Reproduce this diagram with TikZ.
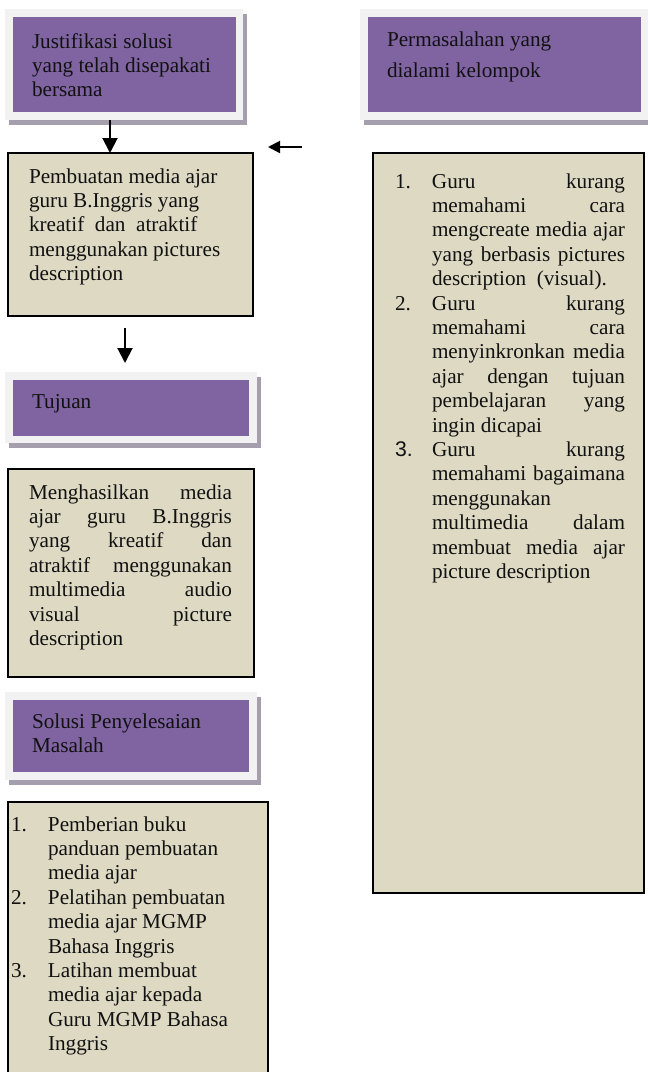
\documentclass[tikz,border=0pt]{standalone}
\usepackage{fontspec}
\setmainfont{Liberation Serif}
\newfontfamily\numsans{Liberation Sans}
\usetikzlibrary{arrows.meta,shadows}
\definecolor{hdrpurple}{HTML}{8064A2}
\definecolor{hdrouter}{HTML}{F2F2F2}
\definecolor{hdrshadow}{HTML}{A59EAD}
\definecolor{bodybeige}{HTML}{DDD9C3}
\definecolor{inktext}{HTML}{111111}
\newcommand\txtblk[3][24.4pt]{\begin{minipage}[t]{#2}\fontsize{21.2pt}{#1}\selectfont #3\end{minipage}}
\newcommand\jl[1]{\makebox[\linewidth][s]{#1}\par}
\newcommand\rl[1]{\mbox{#1}\par}
\newcommand\itemj[3]{\makebox[#1][l]{#2}\makebox[\dimexpr\linewidth-#1\relax][s]{#3}\par}
\newcommand\itemr[3]{\makebox[#1][l]{#2}\mbox{#3}\par}
\tikzset{
  hdrframe/.style={fill=hdrouter, draw=none, inner sep=0pt, outer sep=0pt, anchor=north west,
    drop shadow={shadow xshift=3.5pt, shadow yshift=-5pt, fill=hdrshadow, opacity=1}},
  hdrfill/.style={fill=hdrpurple, draw=none, inner sep=0pt, outer sep=0pt, anchor=north west},
  bodybox/.style={fill=bodybeige, draw=black, line width=2pt, inner sep=0pt, outer sep=0pt, anchor=north west},
  txt/.style={inner sep=0pt, outer sep=0pt, anchor=base west, text=inktext},
  arr/.style={line width=2pt, -{Triangle[length=15pt,width=15pt]}},
  arrsmall/.style={line width=2pt, -{Triangle[length=12pt,width=12pt]}},
}
\begin{document}
\begin{tikzpicture}[x=1pt,y=-1pt]
\useasboundingbox (0,0) rectangle (648,1072);
% headers
\node[hdrframe, minimum width=238pt, minimum height=111pt] (h1o) at (5,9) {};
\node[hdrfill, minimum width=223pt, minimum height=95pt] (h1) at (13,17) {};
\node[txt] (h1t) at (32,48) {\txtblk[24pt]{200pt}{\rl{Justifikasi solusi}\rl{yang telah disepakati}\rl{bersama}}};

\node[hdrframe, minimum width=290pt, minimum height=111pt] (h2o) at (360,9) {};
\node[hdrfill, minimum width=273pt, minimum height=95pt] (h2) at (368,17) {};
\node[txt] (h2t) at (387,46) {\txtblk[31.5pt]{220pt}{\rl{Permasalahan yang}\rl{dialami kelompok}}};

\node[hdrframe, minimum width=252pt, minimum height=71pt] (h3o) at (5,372) {};
\node[hdrfill, minimum width=236pt, minimum height=56pt] (h3) at (13,380) {};
\node[txt] (h3t) at (32,408) {\txtblk{200pt}{\rl{Tujuan}}};

\node[hdrframe, minimum width=252pt, minimum height=88pt] (h4o) at (5,692) {};
\node[hdrfill, minimum width=236pt, minimum height=72pt] (h4) at (13,700) {};
\node[txt] (h4t) at (32,728) {\txtblk[24.5pt]{210pt}{\rl{Solusi Penyelesaian}\rl{Masalah}}};

% body boxes
\node[bodybox, minimum width=245pt, minimum height=163pt] (b2) at (8,153) {};
\node[txt] (b2t) at (29,183) {\txtblk{200pt}{\rl{Pembuatan media ajar}\rl{guru B.Inggris yang}\rl{kreatif\ \ dan\ \ atraktif}\rl{menggunakan pictures}\rl{description}}};

\node[bodybox, minimum width=271pt, minimum height=740pt] (rb) at (373,153) {};
\node[txt] (rbt) at (395,188) {\txtblk[24.4pt]{230pt}{%
\itemj{37pt}{1.}{Guru kurang}%
\itemj{37pt}{}{memahami cara}%
\itemj{37pt}{}{mengcreate media ajar}%
\itemj{37pt}{}{yang berbasis pictures}%
\itemr{37pt}{}{description\ \ (visual).}%
\itemj{37pt}{2.}{Guru kurang}%
\itemj{37pt}{}{memahami cara}%
\itemj{37pt}{}{menyinkronkan media}%
\itemj{37pt}{}{ajar dengan tujuan}%
\itemj{37pt}{}{pembelajaran yang}%
\itemr{37pt}{}{ingin dicapai}%
\itemj{37pt}{{\numsans 3.}}{Guru kurang}%
\itemj{37pt}{}{memahami bagaimana}%
\itemr{37pt}{}{menggunakan}%
\itemj{37pt}{}{multimedia dalam}%
\itemj{37pt}{}{membuat media ajar}%
\itemr{37pt}{}{picture description}}};

\node[bodybox, minimum width=246pt, minimum height=208pt] (b3) at (8,469) {};
\node[txt] (b3t) at (29,499) {\txtblk[24.4pt]{203pt}{%
\jl{Menghasilkan media}\jl{ajar guru B.Inggris}\jl{yang kreatif dan}\jl{atraktif menggunakan}\jl{multimedia audio}\jl{visual picture}\rl{description}}};

\node[bodybox, minimum width=260pt, minimum height=285pt] (b4) at (8,802) {};
\node[txt] (b4t) at (11,831) {\txtblk[24.4pt]{240pt}{%
\itemr{37pt}{1.}{Pemberian buku}%
\itemr{37pt}{}{panduan pembuatan}%
\itemr{37pt}{}{media ajar}%
\itemr{37pt}{2.}{Pelatihan pembuatan}%
\itemr{37pt}{}{media ajar MGMP}%
\itemr{37pt}{}{Bahasa Inggris}%
\itemr{37pt}{3.}{Latihan membuat}%
\itemr{37pt}{}{media ajar kepada}%
\itemr{37pt}{}{Guru MGMP Bahasa}%
\itemr{37pt}{}{Inggris}}};

% arrows
\coordinate (a1x) at (110,0);
\draw[arr] (h1o.south -| a1x) -- (b2.north -| a1x);
\coordinate (a2s) at (125,328);
\coordinate (a2e) at (125,363);
\draw[arr] (a2s) -- (a2e);
\coordinate (a3s) at (302,147);
\coordinate (a3e) at (268,147);
\draw[arrsmall] (a3s) -- (a3e);
\end{tikzpicture}
\end{document}
